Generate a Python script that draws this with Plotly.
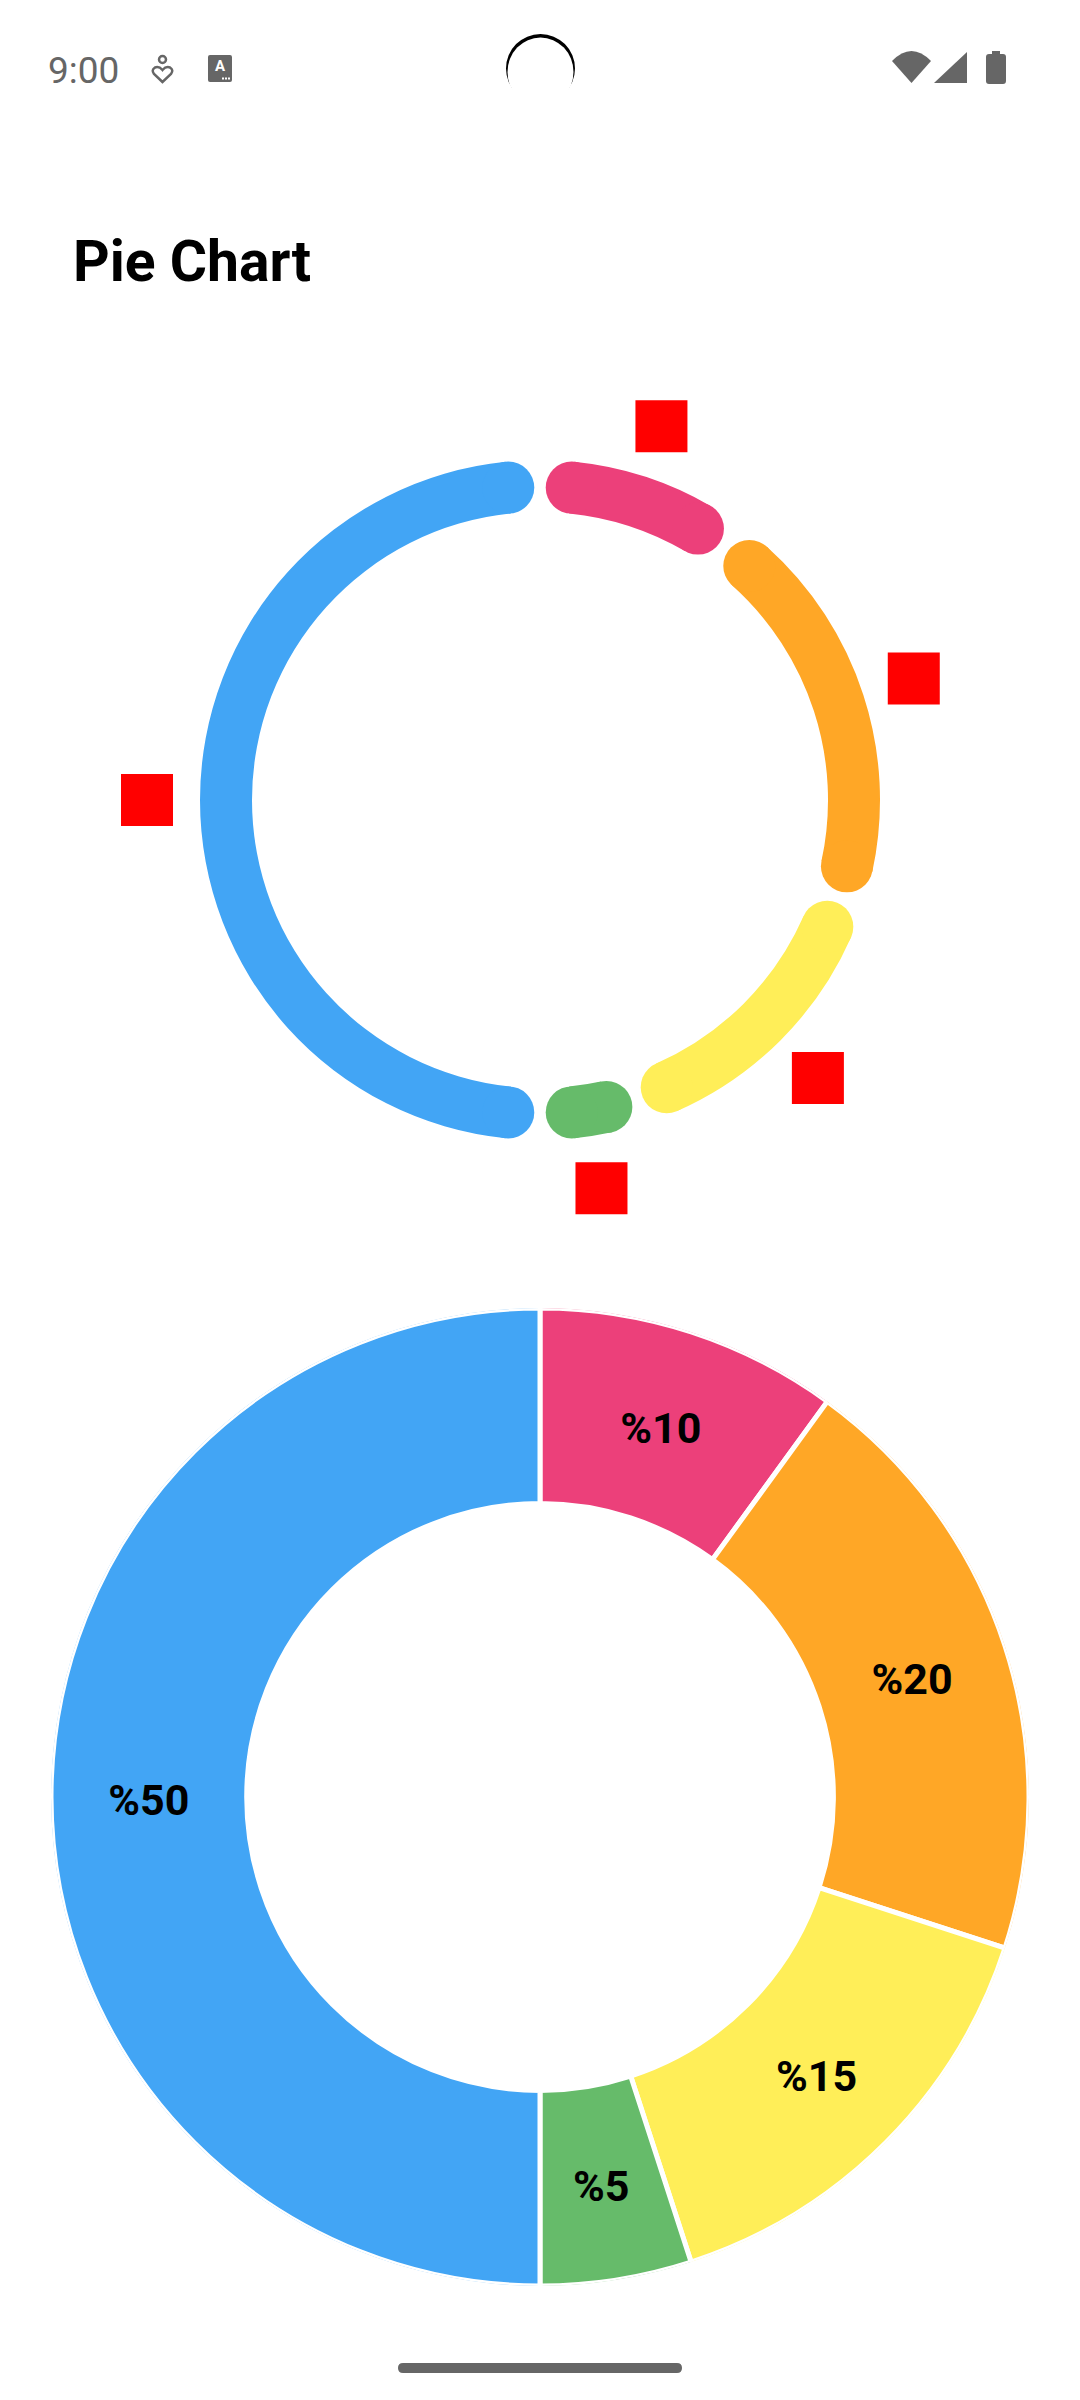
import plotly.graph_objects as go

# ---------------- data ----------------
slice_values = [10, 20, 15, 5, 50]
slice_labels = ["%10", "%20", "%15", "%5", "%50"]
slice_colors = ["#EC407A", "#FFA726", "#FFEE58", "#66BB6A", "#42A5F5"]
title_text = "Pie Chart"
clock_text = "9:00"

# ---------------- geometry (pixels) ----------------
W, H = 1080, 2400
GAP_DEG = 5.8          # angular inset at both ends of every arc in the top ring
RING_MID = 314         # centre-line radius of the top ring
RING_W = 52            # stroke width of the top ring
MARK_R = 393           # radius of the red square markers
MARK_SIZE = 52
POLAR_R = 440          # radial axis range == pixels
TOP_CX, TOP_CY = 540, 800
PIE_CX, PIE_CY, PIE_R = 540, 1797, 489
HOLE = 0.6
TEXT_DY = 7            # optical baseline correction for slice labels


def px(x):
    return x / W


def py(y):
    return 1 - y / H


total = sum(slice_values)
starts, spans = [], []
acc = 0
for v in slice_values:
    starts.append(acc / total * 360)
    spans.append(v / total * 360)
    acc += v
mids = [s + w / 2 for s, w in zip(starts, spans)]
arc_widths = [w - 2 * GAP_DEG for w in spans]
cap_start = [s + GAP_DEG for s in starts]
cap_end = [s + w - GAP_DEG for s, w in zip(starts, spans)]
n = len(slice_values)

fig = go.Figure()

# ---------- top ring ----------
fig.add_trace(go.Barpolar(
    theta=mids, width=arc_widths,
    r=[RING_W] * n, base=[RING_MID - RING_W / 2] * n,
    marker=dict(color=slice_colors, line=dict(width=0)),
    subplot="polar", showlegend=False, hoverinfo="skip",
))
fig.add_trace(go.Scatterpolar(
    theta=cap_start + cap_end, r=[RING_MID] * (2 * n),
    mode="markers",
    marker=dict(symbol="circle", size=RING_W, color=slice_colors + slice_colors, line=dict(width=0)),
    subplot="polar", showlegend=False, hoverinfo="skip", cliponaxis=False,
))
fig.add_trace(go.Scatterpolar(
    theta=mids, r=[MARK_R] * n,
    mode="markers",
    marker=dict(symbol="square", size=MARK_SIZE, color="#FF0000", line=dict(width=0)),
    subplot="polar", showlegend=False, hoverinfo="skip", cliponaxis=False,
))

# ---------- bottom donut ----------
fig.add_trace(go.Barpolar(
    theta=mids, width=spans,
    r=[PIE_R * (1 - HOLE)] * n, base=[PIE_R * HOLE] * n,
    marker=dict(color=slice_colors, line=dict(color="white", width=5)),
    subplot="polar2", showlegend=False, hoverinfo="skip",
))
fig.add_trace(go.Scatterpolar(
    theta=mids, r=[PIE_R * (1 + HOLE) / 2] * n,
    mode="text", text=slice_labels,
    textfont=dict(family="Roboto", size=43, color="black", weight="bold"),
    textposition="middle center",
    subplot="polar3", showlegend=False, hoverinfo="skip", cliponaxis=False,
))

GRAY = "#666666"
shapes = []


def P(x, y):
    return f"{px(x):.5f},{py(y):.5f}"


# camera cutout crescent
shapes.append(dict(type="circle", xref="paper", yref="paper",
                   x0=px(506), x1=px(575), y0=py(34), y1=py(103),
                   fillcolor="black", line=dict(width=0), layer="above"))
shapes.append(dict(type="circle", xref="paper", yref="paper",
                   x0=px(507.5), x1=px(573.5), y0=py(37.5), y1=py(106.5),
                   fillcolor="white", line=dict(width=0), layer="above"))
# wifi
shapes.append(dict(type="path", xref="paper", yref="paper",
                   path=f"M {P(911.5,83)} L {P(892,61)} Q {P(911.5,41)} {P(931,61)} Z",
                   fillcolor=GRAY, line=dict(width=0)))
# signal
shapes.append(dict(type="path", xref="paper", yref="paper",
                   path=f"M {P(934,83)} L {P(967,83)} L {P(967,52)} Z",
                   fillcolor=GRAY, line=dict(width=0)))
# battery
shapes.append(dict(type="path", xref="paper", yref="paper",
                   path=(f"M {P(989,54)} L {P(1003,54)} Q {P(1006,54)} {P(1006,57)} L {P(1006,81)} "
                         f"Q {P(1006,84)} {P(1003,84)} L {P(989,84)} Q {P(986,84)} {P(986,81)} "
                         f"L {P(986,57)} Q {P(986,54)} {P(989,54)} Z"),
                   fillcolor=GRAY, line=dict(width=0)))
shapes.append(dict(type="rect", xref="paper", yref="paper",
                   x0=px(992), x1=px(1000), y0=py(55), y1=py(51),
                   fillcolor=GRAY, line=dict(width=0)))
# A box icon
shapes.append(dict(type="path", xref="paper", yref="paper",
                   path=(f"M {P(210,55)} L {P(230,55)} Q {P(232,55)} {P(232,57)} L {P(232,80)} "
                         f"Q {P(232,82)} {P(230,82)} L {P(210,82)} Q {P(208,82)} {P(208,80)} "
                         f"L {P(208,57)} Q {P(208,55)} {P(210,55)} Z"),
                   fillcolor=GRAY, line=dict(width=0)))
for dx in (223, 226, 229):
    shapes.append(dict(type="rect", xref="paper", yref="paper",
                       x0=px(dx - 1), x1=px(dx + 1), y0=py(79.5), y1=py(77.5),
                       fillcolor="white", line=dict(width=0)))
# person-heart icon
shapes.append(dict(type="circle", xref="paper", yref="paper",
                   x0=px(159), x1=px(166), y0=py(56), y1=py(63),
                   line=dict(color=GRAY, width=2.5)))
shapes.append(dict(type="path", xref="paper", yref="paper",
                   path=(f"M {P(162.5,82)} L {P(154,74)} Q {P(151,70)} {P(155,67.5)} "
                         f"Q {P(159,66)} {P(162.5,70)} Q {P(166,66)} {P(170,67.5)} "
                         f"Q {P(174,70)} {P(171,74)} Z"),
                   line=dict(color=GRAY, width=2.5)))
# navigation bar pill
shapes.append(dict(type="path", xref="paper", yref="paper",
                   path=(f"M {P(403,2363)} L {P(677,2363)} Q {P(682,2363)} {P(682,2368)} "
                         f"Q {P(682,2373)} {P(677,2373)} L {P(403,2373)} Q {P(398,2373)} {P(398,2368)} "
                         f"Q {P(398,2363)} {P(403,2363)} Z"),
                   fillcolor=GRAY, line=dict(width=0)))

annotations = [
    dict(text=clock_text, x=px(46), y=py(70), xref="paper", yref="paper",
         xanchor="left", yanchor="middle", showarrow=False,
         font=dict(family="Roboto", size=37, color=GRAY)),
    dict(text="A", x=px(220), y=py(66), xref="paper", yref="paper",
         xanchor="center", yanchor="middle", showarrow=False,
         font=dict(family="Roboto", size=15, color="white", weight="bold")),
    dict(text=title_text, x=px(71), y=py(261), xref="paper", yref="paper",
         xanchor="left", yanchor="middle", showarrow=False,
         font=dict(family="Roboto", size=57, color="black", weight="bold")),
]

hidden_radial = dict(visible=False, showgrid=False, showline=False, showticklabels=False, ticks="")
hidden_angular = dict(visible=False, rotation=90, direction="clockwise", showgrid=False,
                      showline=False, showticklabels=False, ticks="")


def polar_layout(cx, cy, r):
    return dict(
        domain=dict(x=[px(cx - r), px(cx + r)], y=[py(cy + r), py(cy - r)]),
        bgcolor="rgba(0,0,0,0)",
        radialaxis=dict(range=[0, r], **hidden_radial),
        angularaxis=hidden_angular,
    )


fig.update_layout(
    width=W, height=H, autosize=False,
    margin=dict(l=0, r=0, t=0, b=0),
    paper_bgcolor="white", plot_bgcolor="white",
    polar=polar_layout(TOP_CX, TOP_CY, POLAR_R),
    polar2=polar_layout(PIE_CX, PIE_CY, PIE_R),
    polar3=polar_layout(PIE_CX, PIE_CY + TEXT_DY, PIE_R),
    shapes=shapes,
    annotations=annotations,
)

fig.write_html("out.html")
